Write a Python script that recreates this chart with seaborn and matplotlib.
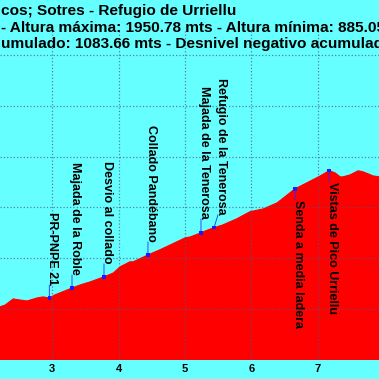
import matplotlib
matplotlib.use('Agg')
import matplotlib.pyplot as plt
import seaborn as sns
import pandas as pd

# ── Profile data (km, metres) ────────────────────────────────────────────────
km = [2.21, 2.29, 2.41, 2.51, 2.62, 2.77, 2.86, 2.955, 3.04, 3.297, 3.42, 3.57,
      3.779, 3.92, 4.02, 4.17, 4.22, 4.442, 4.62, 4.88, 5.00, 5.08, 5.241, 5.35,
      5.437, 5.57, 5.78, 5.98, 6.18, 6.39, 6.658, 6.84, 7.04, 7.171, 7.26, 7.34,
      7.38, 7.49, 7.61, 7.68, 7.76, 7.83, 7.93]
elev = [1009, 1016, 1040, 1036, 1032, 1044, 1048, 1044, 1056, 1083, 1095, 1107,
        1127, 1142, 1166, 1186, 1186, 1213, 1233, 1265, 1280, 1284, 1300, 1312,
        1320, 1331, 1355, 1383, 1394, 1418, 1473, 1497, 1524, 1544, 1536, 1520,
        1520, 1528, 1544, 1540, 1532, 1524, 1520]

# ── Waypoints ────────────────────────────────────────────────────────────────
wp_names = ['PR-PNPE 21', 'Majada de la Roble', 'Desvio al collado',
            'Collado Pandébano', 'Majada de la Tenerosa', 'Refugio de la Tenerosa',
            'Senda a media ladera', 'Vistas de Pico Urriellu']
wp_km = [2.955, 3.297, 3.779, 4.442, 5.241, 5.437, 6.658, 7.171]
wp_elev = [1044, 1083, 1127, 1213, 1300, 1320, 1473, 1544]

title_lines = ['cos; Sotres - Refugio de Urriellu',
               '- Altura máxima: 1950.78 mts - Altura mínima: 885.05 mts',
               'umulado: 1083.66 mts - Desnivel negativo acumulado:']

# label placement (pixels from the marker): positive = above, negative = below
label_dy = [13, 13, 13, 13, 14, 13, -11, -11]
label_dx = [0, 0, 0, 0, 0, 4, 0, 0]

BG = '#66ffff'
W = H = 379

sns.set_theme(style='white')
plt.rcParams['font.family'] = ['Liberation Sans', 'DejaVu Sans']

fig = plt.figure(figsize=(W / 100, H / 100), dpi=100, facecolor=BG)
# axes: bottom edge at y=360px, 200 m = 50.87 px, left/right run past the canvas
px_per_m = 50.87 / 200
y_top = 2100
ax = fig.add_axes([0, (H - 360) / H, 1, (y_top - 800) * px_per_m / H])
ax.set_facecolor(BG)

prof = pd.DataFrame({'km': km, 'elev': elev})
ax.fill_between(prof['km'], prof['elev'], 800, color='#ff0000', lw=0, zorder=1)
sns.lineplot(data=prof, x='km', y='elev', color='#ff0000', lw=0.8, ax=ax, zorder=1)

# waypoint markers, leader lines and labels
for name, x, y, dx, dy in zip(wp_names, wp_km, wp_elev, label_dx, label_dy):
    ax.annotate('', xy=(x, y), xytext=(dx, dy), textcoords='offset pixels',
                arrowprops=dict(arrowstyle='-', color='#2a2aff', lw=0.6,
                                shrinkA=0, shrinkB=0), zorder=3)
    ax.annotate(name, xy=(x, y), xytext=(dx, dy), textcoords='offset pixels',
                rotation=-90, rotation_mode='anchor',
                ha='right' if dy > 0 else 'left', va='baseline',
                fontsize=9, fontweight='bold', color='black', zorder=4)
sns.scatterplot(x=wp_km, y=wp_elev, marker='s', s=6, color='#1a1aff',
                edgecolor='none', ax=ax, zorder=5)

ax.set_xticks(range(3, 8))
ax.set_yticks(range(1000, 2001, 200))
ax.set_xlim(3 - 52.3 / 66.35, 3 + (W - 52.3) / 66.35)
ax.set_ylim(800, y_top)
ax.grid(True, linestyle=':', color='#4a5a8a', lw=0.9, alpha=0.75)
ax.set_axisbelow(False)
for s in ax.spines.values():
    s.set_visible(False)
ax.tick_params(axis='x', length=0, pad=3, labelsize=8, colors='black')
ax.tick_params(axis='y', length=0, labelleft=False)
for lab in ax.get_xticklabels():
    lab.set_fontweight('bold')
ax.set_xlabel('')
ax.set_ylabel('')

# title, cropped like the original
for i, line in enumerate(title_lines):
    fig.text(1 / W, 1 - (15.5 + 16.3 * i) / H, line, ha='left', va='baseline',
             fontsize=11.1, fontweight='bold', color='black')

fig.savefig('out.png', dpi=100, facecolor=BG)
